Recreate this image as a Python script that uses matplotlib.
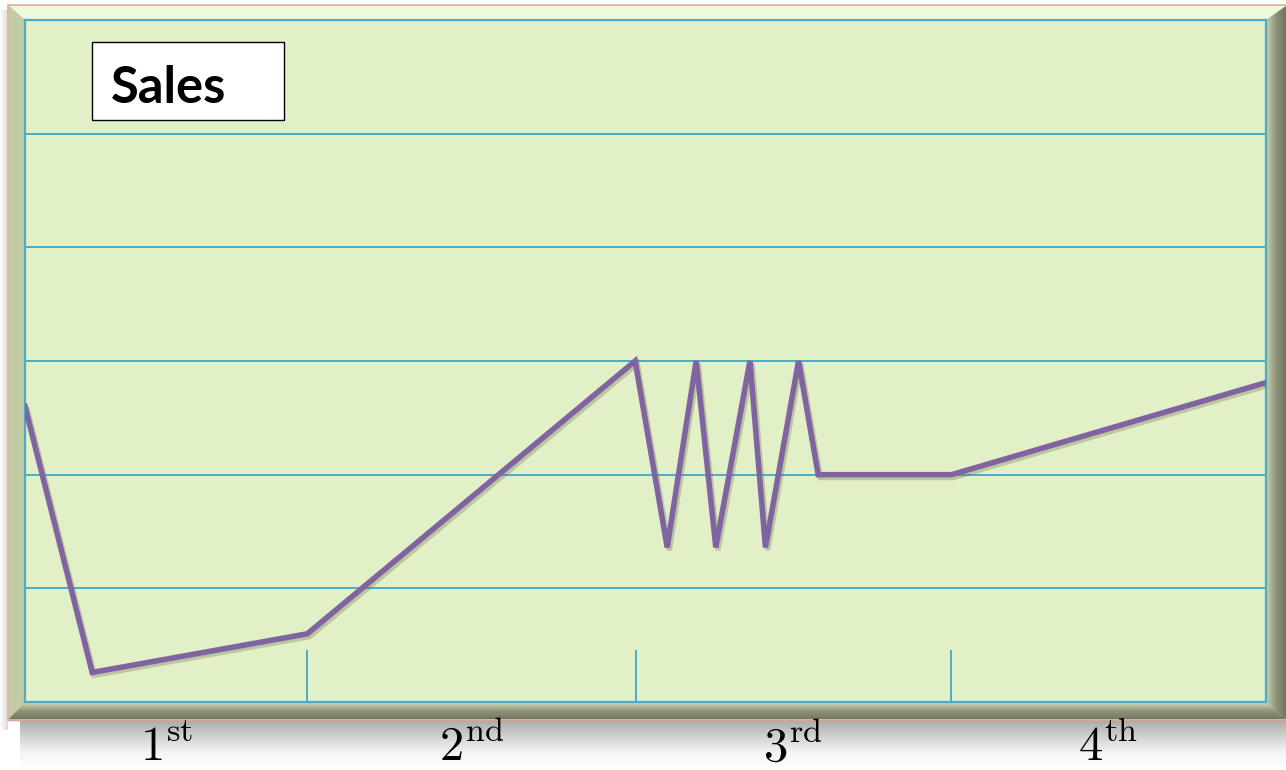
import numpy as np
import matplotlib
matplotlib.use("Agg")
import matplotlib.pyplot as plt
from matplotlib.patches import Polygon, Rectangle
from matplotlib.colors import LinearSegmentedColormap
import matplotlib.patheffects as pe

plt.rcParams['mathtext.fontset'] = 'cm'

# ---------------- data ----------------
quarter_labels = [r'$1^{\mathrm{st}}$', r'$2^{\mathrm{nd}}$', r'$3^{\mathrm{rd}}$', r'$4^{\mathrm{th}}$']
quarter_bounds = [0, 2.73, 5.91, 8.95, 12]
sales_x = [0, 0.65, 2.73, 5.90, 6.21, 6.49, 6.68, 7.01, 7.16, 7.48, 7.67, 8.96, 12.0]
sales_y = [2.60, 0.26, 0.60, 3.0, 1.36, 3.0, 1.36, 3.0, 1.36, 3.0, 2.0, 2.0, 2.81]
grid_levels = [1, 2, 3, 4, 5]
title_text = "Sales"

W, H = 1286, 770
fig = plt.figure(figsize=(W / 100, H / 100), dpi=100)
fig.patch.set_facecolor('white')

# ---------------- frame / background ----------------
bg = fig.add_axes([0, 0, 1, 1], zorder=0)
bg.set_xlim(0, W)
bg.set_ylim(H, 0)
bg.axis('off')

# drop shadow under frame
sh = np.linspace(0, 1, 100).reshape(-1, 1)
shadow_cmap = LinearSegmentedColormap.from_list('sh', ['#a6a6a6', '#cfcfcf', '#f4f4f4', '#ffffff'])
bg.imshow(sh, extent=(20, W, 770, 718), cmap=shadow_cmap, aspect='auto', zorder=0,
          origin='upper')
side = np.linspace(0, 1, 20).reshape(1, -1)
side_cmap = LinearSegmentedColormap.from_list('sd', ['#ffffff', '#dcdcdc'])
bg.imshow(side, extent=(0, 8, 730, 10), cmap=side_cmap, aspect='auto', zorder=0)

L0, T0, R0, B0 = 8, 5, 1286, 720
L1, T1, R1, B1 = 25, 20, 1266, 702

outer = Polygon([(L0, T0), (R0, T0), (R0, B0), (L0, B0)], closed=True,
                facecolor='#d8c0a8', edgecolor='#e0b49a', lw=1.2, zorder=1)
bg.add_patch(outer)

top_b = Polygon([(L0 + 1, T0 + 1), (R0, T0 + 1), (R1, T1), (L1, T1)], closed=True,
                facecolor='#eef8dc', edgecolor='none', zorder=2)
bg.add_patch(top_b)
left_b = Polygon([(L0 + 1, T0 + 1), (L1, T1), (L1, B1), (L0 + 1, B0 - 1)], closed=True,
                 facecolor='#c4cca6', edgecolor='none', zorder=2)
bg.add_patch(left_b)

right_b = Polygon([(R0, T0 + 1), (R0, B0 - 1), (R1, B1), (R1, T1)], closed=True,
                  facecolor='none', edgecolor='none', zorder=2)
bg.add_patch(right_b)
rg = np.linspace(0, 1, 50).reshape(1, -1)
right_cmap = LinearSegmentedColormap.from_list('rb', ['#c9d1ad', '#8d947a', '#6f735f'])
im = bg.imshow(rg, extent=(R1, R0, B0, T0), cmap=right_cmap, aspect='auto', zorder=2)
im.set_clip_path(right_b)

bot_b = Polygon([(L0 + 1, B0 - 1), (R0, B0 - 1), (R1, B1), (L1, B1)], closed=True,
                facecolor='none', edgecolor='none', zorder=3)
bg.add_patch(bot_b)
bgr = np.linspace(0, 1, 50).reshape(-1, 1)
bot_cmap = LinearSegmentedColormap.from_list('bb', ['#d2d9b4', '#8e9479', '#70745f'])
im2 = bg.imshow(bgr, extent=(L0, R0, B0, B1), cmap=bot_cmap, aspect='auto', zorder=3,
                origin='upper')
im2.set_clip_path(bot_b)
bg.plot([L0, R0], [B0, B0], color='#d9a58c', lw=1.0, zorder=4)

# ---------------- main plot ----------------
ax = fig.add_axes([L1 / W, 1 - B1 / H, (R1 - L1) / W, (B1 - T1) / H], zorder=2)
ax.set_facecolor('#e2f0c8')
ax.set_xlim(quarter_bounds[0], quarter_bounds[-1])
ax.set_ylim(0, 6)
grid_c = '#4bacc6'
for s in ax.spines.values():
    s.set_color(grid_c)
    s.set_linewidth(1.6)
ax.hlines(grid_levels, quarter_bounds[0], quarter_bounds[-1], colors=grid_c, lw=1.4, zorder=1)
ax.vlines(quarter_bounds[1:-1], 0, 0.46, colors=grid_c, lw=1.4, zorder=1)

ax.plot(sales_x, sales_y, color='#8064a2', lw=4.0, solid_joinstyle='miter', zorder=3,
        path_effects=[pe.SimpleLineShadow(offset=(1.5, -2.0), shadow_color='#6a6a40', alpha=0.3),
                      pe.Normal()])

centers = [(quarter_bounds[i] + quarter_bounds[i + 1]) / 2 for i in range(len(quarter_labels))]
ax.set_xticks(centers)
ax.set_xticklabels(quarter_labels, fontsize=35, color='black')
ax.tick_params(axis='x', length=0, pad=15)
ax.set_yticks([])

# ---------------- title box ----------------
ov = fig.add_axes([0, 0, 1, 1], zorder=5)
ov.set_xlim(0, W)
ov.set_ylim(H, 0)
ov.axis('off')
ov.patch.set_alpha(0)
ov.add_patch(Rectangle((92, 42), 192, 78, facecolor='white', edgecolor='black', lw=1.0))
ov.text(111, 103, title_text, fontsize=36.5, fontweight='bold', family='Lato',
        ha='left', va='baseline', color='black')

fig.savefig('out.png', dpi=100, facecolor='white')
